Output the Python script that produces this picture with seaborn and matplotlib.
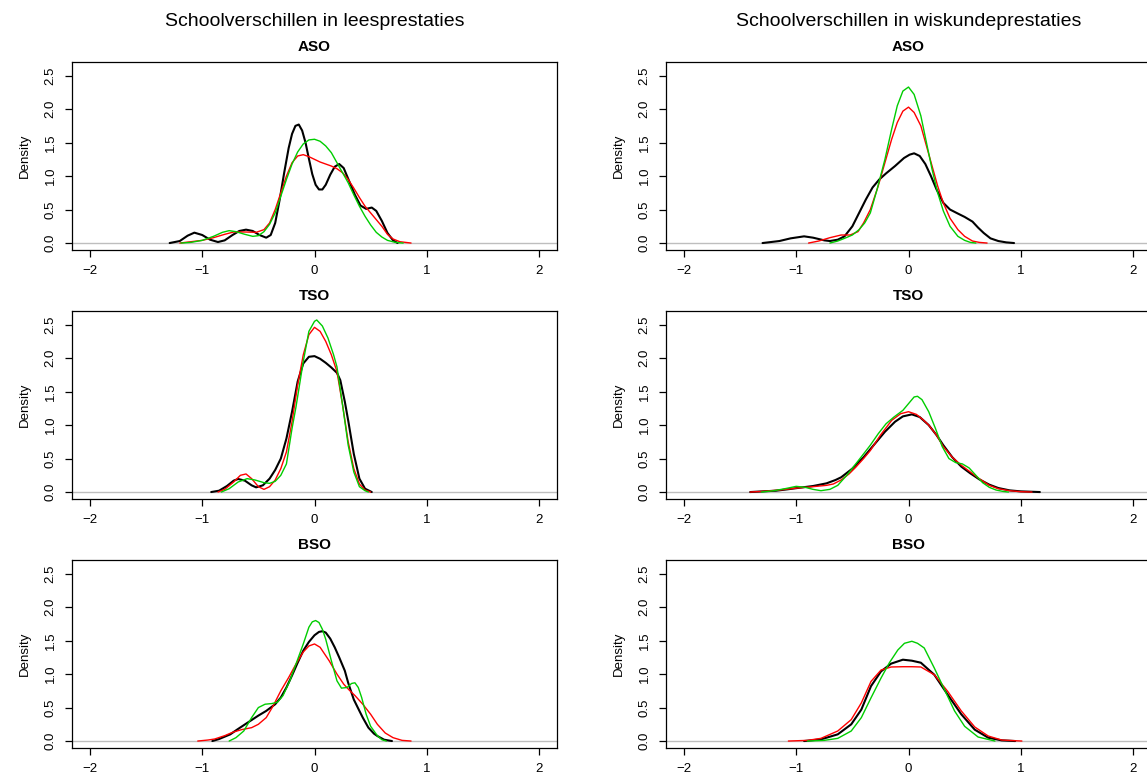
import matplotlib
matplotlib.use("Agg")
import matplotlib.pyplot as plt
import seaborn as sns

# Dichtheden (x = schooleffect, y = density)

# --- Lezen, ASO ---
lees_aso_black_x = [-1.29, -1.2, -1.13, -1.07, -1.0, -0.93, -0.86, -0.8, -0.73, -0.67, -0.61, -0.55, -0.49, -0.43,
                    -0.39, -0.35, -0.31, -0.27, -0.23, -0.2, -0.17, -0.14, -0.11, -0.08, -0.05, -0.02, 0.01, 0.04,
                    0.07, 0.1, 0.14, 0.18, 0.22, 0.26, 0.31, 0.36, 0.41, 0.46, 0.51, 0.55, 0.6, 0.65, 0.7, 0.74]
lees_aso_black_y = [0.0, 0.03, 0.11, 0.155, 0.12, 0.05, 0.015, 0.04, 0.12, 0.18, 0.2, 0.18, 0.12, 0.08,
                    0.12, 0.3, 0.65, 1.05, 1.42, 1.63, 1.75, 1.77, 1.68, 1.5, 1.26, 1.03, 0.87, 0.8,
                    0.8, 0.87, 1.02, 1.14, 1.18, 1.12, 0.92, 0.72, 0.56, 0.51, 0.53, 0.48, 0.33, 0.15, 0.04, 0.0]
lees_aso_red_x = [-1.2, -1.1, -1.0, -0.9, -0.8, -0.72, -0.62, -0.52, -0.45, -0.4, -0.35, -0.3, -0.25, -0.2,
                  -0.15, -0.1, -0.05, 0.0, 0.05, 0.1, 0.15, 0.2, 0.25, 0.3, 0.35, 0.4, 0.45, 0.5, 0.55, 0.6,
                  0.65, 0.7, 0.76, 0.86]
lees_aso_red_y = [0.0, 0.02, 0.04, 0.08, 0.13, 0.165, 0.165, 0.16, 0.2, 0.3, 0.5, 0.75, 1.0, 1.2,
                  1.3, 1.32, 1.29, 1.25, 1.21, 1.18, 1.15, 1.11, 1.05, 0.95, 0.82, 0.68, 0.55, 0.45, 0.35, 0.25,
                  0.13, 0.06, 0.02, 0.0]
lees_aso_green_x = [-1.19, -1.1, -1.0, -0.9, -0.82, -0.76, -0.7, -0.62, -0.55, -0.5, -0.45, -0.4, -0.35, -0.3,
                    -0.25, -0.2, -0.15, -0.1, -0.05, 0.0, 0.05, 0.1, 0.15, 0.2, 0.25, 0.3, 0.35, 0.4, 0.45,
                    0.5, 0.55, 0.6, 0.65, 0.72, 0.79]
lees_aso_green_y = [0.0, 0.01, 0.04, 0.1, 0.16, 0.185, 0.17, 0.13, 0.1, 0.11, 0.17, 0.28, 0.45, 0.7,
                    0.95, 1.18, 1.36, 1.48, 1.54, 1.55, 1.52, 1.45, 1.35, 1.2, 1.05, 0.9, 0.72, 0.55, 0.4,
                    0.27, 0.16, 0.09, 0.04, 0.01, 0.0]

# --- Lezen, TSO ---
lees_tso_black_x = [-0.92, -0.85, -0.78, -0.72, -0.68, -0.62, -0.56, -0.52, -0.46, -0.4, -0.35, -0.3, -0.25,
                    -0.2, -0.15, -0.1, -0.05, 0.0, 0.05, 0.1, 0.15, 0.2, 0.23, 0.27, 0.3, 0.35, 0.4, 0.45, 0.51]
lees_tso_black_y = [0.0, 0.02, 0.09, 0.17, 0.195, 0.17, 0.1, 0.07, 0.1, 0.2, 0.33, 0.5, 0.8,
                    1.2, 1.65, 1.92, 2.02, 2.03, 1.99, 1.93, 1.86, 1.78, 1.67, 1.35, 1.07, 0.57, 0.2, 0.05, 0.0]
lees_tso_red_x = [-0.86, -0.8, -0.72, -0.66, -0.61, -0.56, -0.5, -0.45, -0.4, -0.35, -0.3, -0.25, -0.2, -0.15,
                  -0.1, -0.05, 0.0, 0.05, 0.1, 0.15, 0.2, 0.25, 0.3, 0.35, 0.4, 0.45, 0.5]
lees_tso_red_y = [0.0, 0.04, 0.15, 0.25, 0.27, 0.2, 0.08, 0.04, 0.08, 0.18, 0.35, 0.6, 1.05, 1.6,
                  2.05, 2.35, 2.46, 2.4, 2.25, 2.05, 1.8, 1.3, 0.75, 0.35, 0.12, 0.03, 0.0]
lees_tso_green_x = [-0.83, -0.76, -0.68, -0.6, -0.53, -0.45, -0.4, -0.35, -0.3, -0.25, -0.2, -0.165, -0.1,
                    -0.05, 0.0, 0.02, 0.07, 0.12, 0.17, 0.2, 0.25, 0.3, 0.35, 0.4, 0.45, 0.48]
lees_tso_green_y = [0.0, 0.05, 0.15, 0.2, 0.18, 0.14, 0.13, 0.16, 0.25, 0.42, 0.95, 1.27, 1.95,
                    2.4, 2.55, 2.57, 2.48, 2.3, 2.05, 1.87, 1.3, 0.7, 0.3, 0.08, 0.02, 0.0]

# --- Lezen, BSO ---
lees_bso_black_x = [-0.91, -0.85, -0.75, -0.69, -0.6, -0.5, -0.43, -0.35, -0.3, -0.25, -0.2, -0.15, -0.1,
                    -0.05, 0.0, 0.04, 0.07, 0.1, 0.14, 0.18, 0.22, 0.27, 0.3, 0.35, 0.4, 0.43, 0.48, 0.53,
                    0.56, 0.62, 0.69]
lees_bso_black_y = [0.0, 0.03, 0.1, 0.17, 0.27, 0.38, 0.45, 0.55, 0.65, 0.8, 0.98, 1.17, 1.35,
                    1.48, 1.58, 1.63, 1.64, 1.62, 1.53, 1.4, 1.25, 1.05, 0.87, 0.62, 0.45, 0.35, 0.2, 0.11,
                    0.075, 0.02, 0.0]
lees_bso_red_x = [-1.04, -0.95, -0.89, -0.8, -0.73, -0.65, -0.56, -0.5, -0.43, -0.37, -0.3, -0.23, -0.165,
                  -0.1, -0.05, 0.0, 0.05, 0.13, 0.2, 0.26, 0.31, 0.36, 0.43, 0.5, 0.56, 0.63, 0.7, 0.78, 0.86]
lees_bso_red_y = [0.0, 0.015, 0.03, 0.08, 0.13, 0.17, 0.2, 0.25, 0.35, 0.52, 0.75, 0.95, 1.15,
                  1.33, 1.42, 1.45, 1.4, 1.2, 1.0, 0.85, 0.76, 0.68, 0.55, 0.4, 0.25, 0.12, 0.05, 0.01, 0.0]
lees_bso_green_x = [-0.76, -0.7, -0.63, -0.56, -0.5, -0.44, -0.38, -0.33, -0.28, -0.22, -0.165, -0.1, -0.05,
                    -0.02, 0.01, 0.04, 0.07, 0.1, 0.15, 0.2, 0.24, 0.29, 0.33, 0.36, 0.39, 0.42, 0.46, 0.5,
                    0.56, 0.6, 0.64]
lees_bso_green_y = [0.0, 0.05, 0.15, 0.35, 0.5, 0.55, 0.56, 0.58, 0.68, 0.9, 1.15, 1.45, 1.7,
                    1.78, 1.8, 1.77, 1.67, 1.52, 1.2, 0.9, 0.79, 0.8, 0.86, 0.87, 0.8, 0.65, 0.4, 0.22,
                    0.08, 0.02, 0.0]

# --- Wiskunde, ASO ---
wisk_aso_black_x = [-1.3, -1.15, -1.05, -0.93, -0.85, -0.75, -0.7, -0.63, -0.57, -0.5, -0.44, -0.38, -0.32,
                    -0.26, -0.2, -0.12, -0.04, 0.01, 0.05, 0.1, 0.15, 0.2, 0.25, 0.31, 0.37, 0.44, 0.5, 0.57,
                    0.62, 0.67, 0.73, 0.8, 0.87, 0.94]
wisk_aso_black_y = [0.0, 0.03, 0.07, 0.1, 0.08, 0.04, 0.03, 0.05, 0.1, 0.25, 0.45, 0.65, 0.83,
                    0.95, 1.04, 1.15, 1.27, 1.32, 1.34, 1.3, 1.18, 1.0, 0.8, 0.6, 0.5, 0.44, 0.39, 0.32,
                    0.23, 0.15, 0.07, 0.03, 0.01, 0.0]
wisk_aso_red_x = [-0.89, -0.8, -0.7, -0.6, -0.52, -0.45, -0.4, -0.34, -0.27, -0.21, -0.15, -0.1, -0.05, 0.0,
                  0.05, 0.11, 0.16, 0.21, 0.26, 0.31, 0.37, 0.44, 0.5, 0.57, 0.63, 0.7]
wisk_aso_red_y = [0.0, 0.03, 0.08, 0.12, 0.12, 0.17, 0.3, 0.5, 0.85, 1.2, 1.55, 1.8, 1.97, 2.03,
                  1.95, 1.75, 1.45, 1.15, 0.85, 0.6, 0.37, 0.2, 0.1, 0.03, 0.01, 0.0]
wisk_aso_green_x = [-0.7, -0.63, -0.57, -0.5, -0.44, -0.39, -0.34, -0.28, -0.21, -0.15, -0.1, -0.05, 0.0,
                    0.05, 0.11, 0.16, 0.21, 0.26, 0.31, 0.37, 0.44, 0.5, 0.55, 0.6]
wisk_aso_green_y = [0.0, 0.03, 0.07, 0.12, 0.2, 0.3, 0.45, 0.8, 1.25, 1.7, 2.05, 2.27, 2.33,
                    2.22, 1.9, 1.5, 1.1, 0.75, 0.48, 0.25, 0.1, 0.04, 0.01, 0.0]

# --- Wiskunde, TSO ---
wisk_tso_black_x = [-1.41, -1.3, -1.18, -1.08, -0.99, -0.85, -0.73, -0.65, -0.6, -0.5, -0.4, -0.3, -0.21,
                    -0.12, -0.05, 0.03, 0.1, 0.18, 0.25, 0.31, 0.39, 0.47, 0.55, 0.63, 0.72, 0.8, 0.9, 1.0, 1.17]
wisk_tso_black_y = [0.0, 0.01, 0.02, 0.04, 0.06, 0.09, 0.13, 0.18, 0.22, 0.35, 0.52, 0.72, 0.9,
                    1.05, 1.13, 1.16, 1.12, 1.0, 0.85, 0.7, 0.52, 0.38, 0.28, 0.19, 0.11, 0.06, 0.025, 0.01, 0.0]
wisk_tso_red_x = [-1.41, -1.3, -1.15, -0.99, -0.85, -0.73, -0.67, -0.6, -0.53, -0.47, -0.4, -0.34, -0.25,
                  -0.15, -0.07, 0.0, 0.07, 0.13, 0.18, 0.25, 0.31, 0.39, 0.47, 0.55, 0.63, 0.72, 0.8, 0.9, 1.0, 1.1]
wisk_tso_red_y = [0.0, 0.01, 0.03, 0.06, 0.08, 0.1, 0.12, 0.18, 0.27, 0.37, 0.5, 0.62, 0.85,
                  1.07, 1.17, 1.2, 1.16, 1.08, 1.0, 0.85, 0.68, 0.52, 0.4, 0.3, 0.2, 0.1, 0.05, 0.02, 0.005, 0.0]
wisk_tso_green_x = [-1.31, -1.2, -1.1, -1.0, -0.92, -0.85, -0.78, -0.7, -0.63, -0.55, -0.47, -0.4, -0.34,
                    -0.27, -0.2, -0.13, -0.05, 0.0, 0.05, 0.08, 0.12, 0.18, 0.24, 0.3, 0.36, 0.42, 0.48, 0.54,
                    0.6, 0.66, 0.72, 0.78, 0.84, 0.89]
wisk_tso_green_y = [0.0, 0.02, 0.05, 0.085, 0.07, 0.04, 0.02, 0.04, 0.1, 0.25, 0.42, 0.57, 0.7,
                    0.87, 1.02, 1.12, 1.22, 1.32, 1.42, 1.43, 1.38, 1.2, 0.95, 0.68, 0.5, 0.44, 0.42, 0.36,
                    0.25, 0.14, 0.07, 0.03, 0.01, 0.0]

# --- Wiskunde, BSO ---
wisk_bso_black_x = [-0.93, -0.78, -0.63, -0.51, -0.42, -0.334, -0.245, -0.155, -0.05, 0.03, 0.11, 0.23,
                    0.35, 0.47, 0.59, 0.71, 0.83, 0.95]
wisk_bso_black_y = [0.0, 0.025, 0.1, 0.25, 0.47, 0.82, 1.04, 1.156, 1.215, 1.2, 1.17, 0.99,
                    0.69, 0.4, 0.17, 0.05, 0.01, 0.0]
wisk_bso_red_x = [-1.07, -0.9, -0.78, -0.63, -0.51, -0.42, -0.334, -0.245, -0.155, -0.05, 0.03, 0.11,
                  0.23, 0.35, 0.47, 0.59, 0.71, 0.83, 1.01]
wisk_bso_red_y = [0.0, 0.01, 0.04, 0.15, 0.32, 0.57, 0.89, 1.06, 1.106, 1.11, 1.11, 1.106,
                  0.99, 0.74, 0.45, 0.21, 0.075, 0.015, 0.0]
wisk_bso_green_x = [-0.9, -0.75, -0.63, -0.51, -0.42, -0.334, -0.245, -0.17, -0.095, -0.036, 0.03, 0.08,
                    0.14, 0.23, 0.32, 0.41, 0.5, 0.62, 0.77]
wisk_bso_green_y = [0.0, 0.01, 0.04, 0.15, 0.35, 0.645, 0.94, 1.17, 1.36, 1.46, 1.49, 1.46,
                    1.39, 1.09, 0.77, 0.45, 0.22, 0.06, 0.0]

main_titles = ["Schoolverschillen in leesprestaties", "Schoolverschillen in wiskundeprestaties"]
row_titles = ["ASO", "TSO", "BSO"]
x_ticks = [-2, -1, 0, 1, 2]
y_ticks = [0.0, 0.5, 1.0, 1.5, 2.0, 2.5]
y_ticklabels = ["0.0", "0.5", "1.0", "1.5", "2.0", "2.5"]

curves = {
    (0, 0): [(lees_aso_black_x, lees_aso_black_y), (lees_aso_red_x, lees_aso_red_y), (lees_aso_green_x, lees_aso_green_y)],
    (1, 0): [(lees_tso_black_x, lees_tso_black_y), (lees_tso_red_x, lees_tso_red_y), (lees_tso_green_x, lees_tso_green_y)],
    (2, 0): [(lees_bso_black_x, lees_bso_black_y), (lees_bso_red_x, lees_bso_red_y), (lees_bso_green_x, lees_bso_green_y)],
    (0, 1): [(wisk_aso_black_x, wisk_aso_black_y), (wisk_aso_red_x, wisk_aso_red_y), (wisk_aso_green_x, wisk_aso_green_y)],
    (1, 1): [(wisk_tso_black_x, wisk_tso_black_y), (wisk_tso_red_x, wisk_tso_red_y), (wisk_tso_green_x, wisk_tso_green_y)],
    (2, 1): [(wisk_bso_black_x, wisk_bso_black_y), (wisk_bso_red_x, wisk_bso_red_y), (wisk_bso_green_x, wisk_bso_green_y)],
}
line_colors = ["black", "#FF0000", "#00CD00"]
line_widths = [1.5, 1.0, 1.0]

sns.set_style("white")
plt.rcParams["font.family"] = ["Liberation Sans", "DejaVu Sans"]
plt.rcParams["text.color"] = "black"
plt.rcParams["axes.labelcolor"] = "black"
plt.rcParams["lines.solid_joinstyle"] = "round"

W, H = 1147, 778
fig = plt.figure(figsize=(W / 100, H / 100), dpi=100)

col_left = [72, 666]
box_w = 485
row_top = [62, 311, 560]
box_h = 188

for (r, c), series in curves.items():
    ax = fig.add_axes([col_left[c] / W, 1 - (row_top[r] + box_h) / H, box_w / W, box_h / H])
    ax.axhline(0, color="#BEBEBE", linewidth=1.0, zorder=1)
    for (xs, ys), col, lw in zip(series, line_colors, line_widths):
        sns.lineplot(x=xs, y=ys, ax=ax, color=col, linewidth=lw, sort=False, zorder=3)
    ax.set_xlim(-2.16, 2.16)
    ax.set_ylim(-0.104, 2.704)
    ax.set_xticks(x_ticks)
    ax.set_yticks(y_ticks)
    ax.set_yticklabels(y_ticklabels, rotation=90, va="center")
    ax.tick_params(axis="both", direction="out", length=5, width=0.9, pad=6,
                   labelsize=9.5, colors="black", left=True, bottom=True)
    for sp in ax.spines.values():
        sp.set_color("black")
        sp.set_linewidth(0.9)
    ax.set_xlabel("")
    ax.set_ylabel("Density", fontsize=9.5, labelpad=10)
    ax.set_title(row_titles[r], fontsize=11, fontweight="bold", pad=8, color="black")

for c in range(2):
    cx = (col_left[c] + box_w / 2) / W
    fig.text(cx, 1 - 22 / H, main_titles[c], ha="center", va="center", fontsize=14, color="black")

fig.savefig("out.png", dpi=100)
